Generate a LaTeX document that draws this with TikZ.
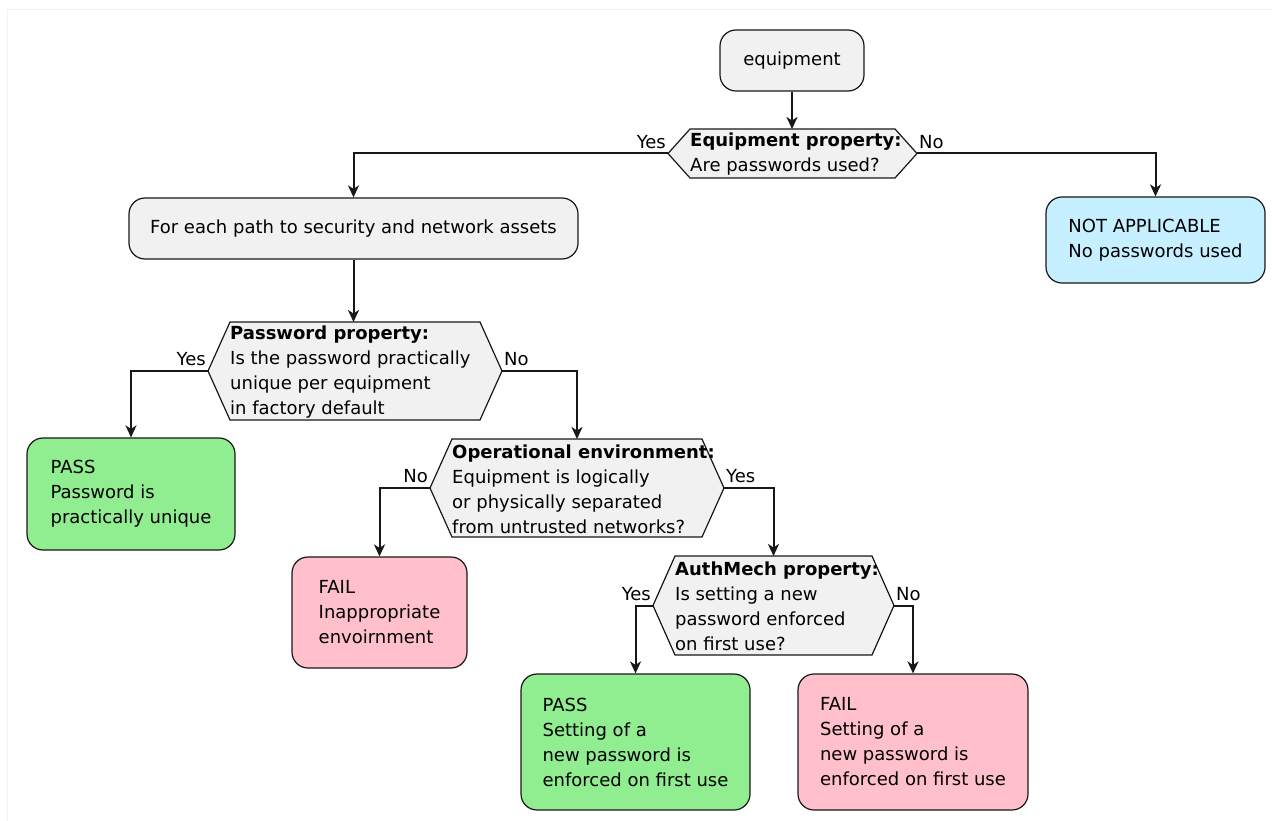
\documentclass[tikz,border=0pt]{standalone}
\usepackage{fontspec}
\setmainfont{DejaVu Sans}
\usetikzlibrary{arrows.meta}
\definecolor{boxgray}{HTML}{F1F1F1}
\definecolor{edge}{HTML}{181818}
\definecolor{passgreen}{HTML}{90EE90}
\definecolor{failpink}{HTML}{FFC0CB}
\definecolor{nablue}{HTML}{C6F0FF}
\tikzset{
  txt/.style={font=\fontsize{18}{25}\selectfont, text=black},
  act/.style={txt, draw=edge, line width=1.2pt, fill=boxgray, rounded corners=16pt, align=left, inner sep=0pt},
  pass/.style={act, fill=passgreen},
  fail/.style={act, fill=failpink},
  na/.style={act, fill=nablue},
  hexbox/.style={draw=edge, line width=1.2pt, fill=boxgray},
  asktext/.style={txt, align=left, inner sep=0pt},
  lbl/.style={txt, inner sep=2pt, yshift=3pt},
  flow/.style={draw=edge, line width=2pt, -{Stealth[length=12pt, width=11pt, inset=3.5pt]}}
}
% name, left, top, right, bottom, text
\newcommand{\decision}[6]{
  \filldraw[hexbox] (#2,#3) -- (#4,#3) -- ({#4+22},{(#3+#5)/2}) -- (#4,#5) -- (#2,#5) -- ({#2-22},{(#3+#5)/2}) -- cycle;
  \coordinate (#1-l) at ({#2-22},{(#3+#5)/2});
  \coordinate (#1-r) at ({#4+22},{(#3+#5)/2});
  \coordinate (#1-t) at ({(#2+#4)/2},#3);
  \node[asktext, anchor=west] (#1) at (#2,{(#3+#5)/2+1}) {#6};
}
\begin{document}
\begin{tikzpicture}[x=1pt, y=-1pt]
  \useasboundingbox (0,0) rectangle (1272,821);
  \draw[black!5] (7,821) |- (1272,9);
  % start
  \node[act, minimum width=144pt, minimum height=61pt] (start) at (792,60.5) {equipment};
  \decision{d1}{690}{129}{895}{178}{\textbf{Equipment property:}\\Are passwords used?}
  % first level
  \node[act, minimum width=449pt, minimum height=61pt] (each) at (353.5,228.5) {For each path to security and network assets};
  \node[na, minimum width=219pt, minimum height=86pt] (none) at (1155.5,240) {NOT APPLICABLE\\No passwords used};
  \decision{d2}{230}{322}{480}{420}{\textbf{Password property:}\\Is the password practically\\unique per equipment\\in factory default}
  % second level
  \node[pass, minimum width=208pt, minimum height=112pt] (pass1) at (131,494) {PASS\\Password is\\practically unique};
  \decision{d3}{452}{439}{702}{537}{\textbf{Operational environment:}\\Equipment is logically\\or physically separated\\from untrusted networks?}
  % third level
  \node[fail, minimum width=175pt, minimum height=111pt] (fail1) at (379.5,612.5) {FAIL\\Inappropriate\\envoirnment};
  \decision{d4}{675}{556}{872}{655}{\textbf{AuthMech property:}\\Is setting a new\\password enforced\\on first use?}
  % leaves
  \node[pass, minimum width=229pt, minimum height=136pt] (pass2) at (635.5,742) {PASS\\Setting of a\\new password is\\enforced on first use};
  \node[fail, minimum width=230pt, minimum height=136pt] (fail2) at (913,742) {FAIL\\Setting of a\\new password is\\enforced on first use};
  % connectors
  \draw[flow] (start.south) -- (start.south |- d1-t);
  \draw[flow] (d1-l) -| (each);
  \draw[flow] (d1-r) -| (none);
  \draw[flow] (each.south) -- (each.south |- d2-t);
  \draw[flow] (d2-l) -| (pass1);
  \draw[flow] (d2-r) -| (d3-t);
  \draw[flow] (d3-l) -| (fail1);
  \draw[flow] (d3-r) -| (d4-t);
  \draw[flow] (d4-l) -| (pass2);
  \draw[flow] (d4-r) -| (fail2);
  % branch labels
  \node[lbl, anchor=south east] (d1-yes) at (d1-l) {Yes};
  \node[lbl, anchor=south west] (d1-no) at (d1-r) {No};
  \node[lbl, anchor=south east] (d2-yes) at (d2-l) {Yes};
  \node[lbl, anchor=south west] (d2-no) at (d2-r) {No};
  \node[lbl, anchor=south east] (d3-no) at (d3-l) {No};
  \node[lbl, anchor=south west] (d3-yes) at (d3-r) {Yes};
  \node[lbl, anchor=south east] (d4-yes) at (d4-l) {Yes};
  \node[lbl, anchor=south west] (d4-no) at (d4-r) {No};
\end{tikzpicture}
\end{document}
